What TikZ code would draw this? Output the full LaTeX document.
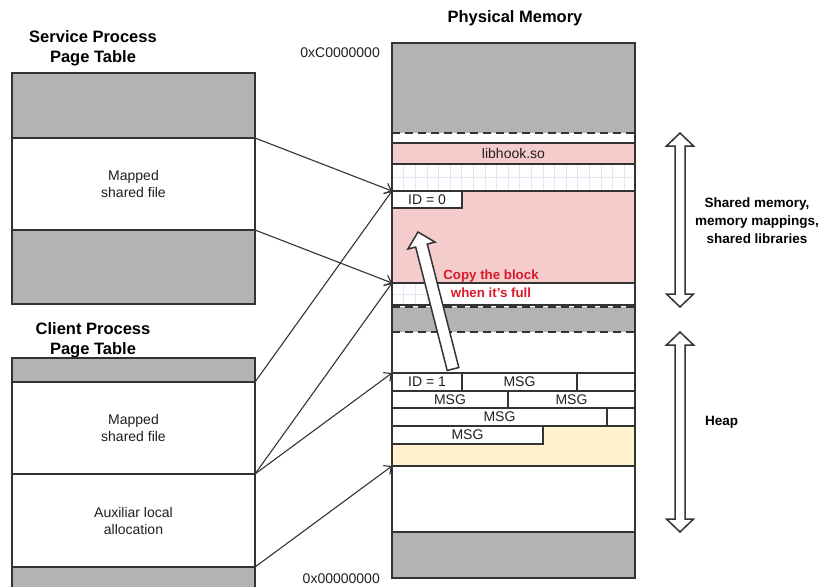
\documentclass[tikz,border=0pt]{standalone}
\usepackage{fontspec}
\setmainfont{Liberation Sans}
\usetikzlibrary{calc,arrows.meta}

\definecolor{linec}{HTML}{333333}
\definecolor{blockgray}{HTML}{B3B3B3}
\definecolor{shmpink}{HTML}{F4CCCC}
\definecolor{heapyellow}{HTML}{FFF2CC}
\definecolor{copyred}{HTML}{D91A2A}
\definecolor{gridc}{HTML}{E2E7F4}
\definecolor{txt}{HTML}{1F1F1F}

\tikzset{
  regionbox/.style={draw=linec, line width=1.5pt, inner sep=0pt, outer sep=0pt,
    anchor=north west, align=center, text=txt, font=\fontsize{14}{17}\selectfont},
  tablebox/.style={regionbox, line width=1.8pt},
  grayfill/.style={fill=blockgray},
  nodraw/.style={draw=none},
  dashsep/.style={draw=linec, line width=1.6pt, dash pattern=on 8pt off 5pt},
  gridline/.style={draw=gridc, line width=0.6pt},
  mapline/.style={draw=linec, line width=1.1pt,
    -{Straight Barb[length=6pt,width=11pt,line width=1.1pt]}},
  hollow/.style={draw=linec, line width=1.5pt, fill=white, line join=miter},
  headtitle/.style={font=\fontsize{16.5}{20}\selectfont\bfseries, text=black,
    align=center, inner sep=0pt},
  sidelabel/.style={font=\fontsize{13.5}{18}\selectfont\bfseries, text=black,
    align=center, inner sep=0pt},
  addr/.style={font=\fontsize{14}{17}\selectfont, text=txt, inner sep=0pt},
  copynote/.style={font=\fontsize{13.3}{18}\selectfont\bfseries, text=copyred,
    align=center, inner sep=0pt},
}

% rectangular region from (x1,y1) to (x2,y2): name, x1, y1, x2, y2, style, text
\newcommand{\regionnode}[7]{%
  \node[regionbox, #6, minimum width={#4-#2}, minimum height={#5-#3}] (#1) at (#2,#3) {#7};}

% vertical double-headed hollow arrow between two named points
\newcommand{\spanarrow}[2]{%
  \draw[hollow] (#1) -- ($(#1)+(13.5,13)$) -- ($(#1)+(5,13)$) -- ($(#2)+(5,-13)$)
    -- ($(#2)+(13.5,-13)$) -- (#2) -- ($(#2)+(-13.5,-13)$) -- ($(#2)+(-5,-13)$)
    -- ($(#1)+(-5,13)$) -- ($(#1)+(-13.5,13)$) -- cycle;}

\begin{document}
\begin{tikzpicture}[x=1pt,y=-1pt]
\useasboundingbox (0,0) rectangle (821,586);
\clip (0,0) rectangle (821,586);

% ---------- titles ----------
\node[headtitle] (titleSvc) at (93,48.5) {Service Process\\Page Table};
\node[headtitle] (titleCli) at (93,340.5) {Client Process\\Page Table};
\node[headtitle, anchor=base] (titleMem) at (515,23) {Physical Memory};

% ---------- service process page table ----------
\regionnode{svcTop}{12}{73}{255}{138}{tablebox,grayfill}{}
\regionnode{svcMapped}{12}{138}{255}{230}{tablebox,fill=white}{Mapped\\shared file}
\regionnode{svcBot}{12}{230}{255}{304}{tablebox,grayfill}{}

% ---------- client process page table ----------
\regionnode{cliTop}{12}{358}{255}{382}{tablebox,grayfill}{}
\regionnode{cliMapped}{12}{382}{255}{474}{tablebox,fill=white}{Mapped\\shared file}
\regionnode{cliAux}{12}{474}{255}{567}{tablebox,fill=white}{Auxiliar local\\allocation}
\regionnode{cliBot}{12}{567}{255}{592}{tablebox,grayfill}{}

% ---------- physical memory ----------
\regionnode{gTop}{392}{43}{635}{133}{nodraw,grayfill}{}
\regionnode{libhook}{392}{143}{635}{164}{fill=shmpink, line width=2.2pt}{libhook.so}
\foreach \gx in {0,...,19} {\draw[gridline] ({403.6+11.6*\gx},165.2) -- ++(0,24.6);}
\draw[gridline] (393,177.5) -- (634,177.5);
\regionnode{shm}{392}{191}{635}{283}{fill=shmpink}{}
\regionnode{id0}{392}{191}{462}{208}{fill=white}{ID = 0}
\regionnode{fullStrip}{392}{283}{635}{305}{fill=white}{}
\foreach \gx in {0,...,3} {\draw[gridline] ({403.6+11.6*\gx},284.2) -- ++(0,19.6);}
\draw[gridline] (393,294.5) -- (440,294.5);
\regionnode{gMid}{392}{307}{635}{332}{nodraw,grayfill}{}
\draw[dashsep] (gTop.south west) -- (gTop.south east);
\draw[dashsep] (gMid.north west) -- (gMid.north east);
\draw[dashsep] (gMid.south west) -- (gMid.south east);

% heap blocks
\regionnode{id1}{392}{373}{462}{391}{fill=white}{ID = 1}
\regionnode{msgA}{462}{373}{577}{391}{fill=white}{MSG}
\regionnode{restA}{577}{373}{635}{391}{fill=white}{}
\regionnode{msgB}{392}{391}{508}{408}{fill=white}{MSG}
\regionnode{msgC}{508}{391}{635}{408}{fill=white}{MSG}
\regionnode{msgD}{392}{408}{607}{426}{fill=white}{MSG}
\regionnode{restD}{607}{408}{635}{426}{fill=white}{}
\regionnode{heapTail}{392}{426}{635}{466}{fill=heapyellow}{}
\regionnode{msgE}{392}{426}{543}{444}{fill=white}{MSG}
\regionnode{gBot}{392}{532}{635}{578}{grayfill}{}
\regionnode{mem}{392}{43}{635}{578}{fill=none, line width=1.8pt}{}

% ---------- address labels ----------
\node[addr, anchor=base east] (addrTop) at (380,57) {0xC0000000};
\node[addr, anchor=base east] (addrBot) at (380,583) {0x00000000};

% ---------- page mappings ----------
\draw[mapline] (svcMapped.north east) -- (shm.north west);
\draw[mapline] (svcMapped.south east) -- (shm.south west);
\draw[mapline] (cliTop.south east) -- (shm.north west);
\draw[mapline] (cliMapped.south east) -- (shm.south west);
\draw[mapline] (cliMapped.south east) -- (id1.north west);
\draw[mapline] (cliAux.south east) -- (heapTail.south west);

% ---------- block copy arrow ----------
\coordinate (copyTail) at (453,369);
\coordinate (copyTip) at (418,232);
\coordinate (copyNeck) at ($(copyTip)!14pt!(copyTail)$);
\draw[hollow]
  ($(copyTail)!6pt!90:(copyTip)$) -- ($(copyNeck)!6pt!90:(copyTip)$)
  -- ($(copyNeck)!14pt!90:(copyTip)$) -- (copyTip)
  -- ($(copyNeck)!14pt!-90:(copyTip)$) -- ($(copyNeck)!6pt!-90:(copyTip)$)
  -- ($(copyTail)!6pt!-90:(copyTip)$) -- cycle;
\node[copynote] (copyLbl) at (491,284) {Copy the block\\when it's full};

% ---------- region spans ----------
\coordinate (spanShmTop) at (680,133);
\coordinate (spanShmBot) at (680,307);
\coordinate (spanHeapTop) at (680,332);
\coordinate (spanHeapBot) at (680,532);
\spanarrow{spanShmTop}{spanShmBot}
\spanarrow{spanHeapTop}{spanHeapBot}
\node[sidelabel] (lblShared) at (757,221) {Shared memory,\\memory mappings,\\shared libraries};
\node[sidelabel, anchor=base west] (lblHeap) at (705,425) {Heap};
\end{tikzpicture}
\end{document}
